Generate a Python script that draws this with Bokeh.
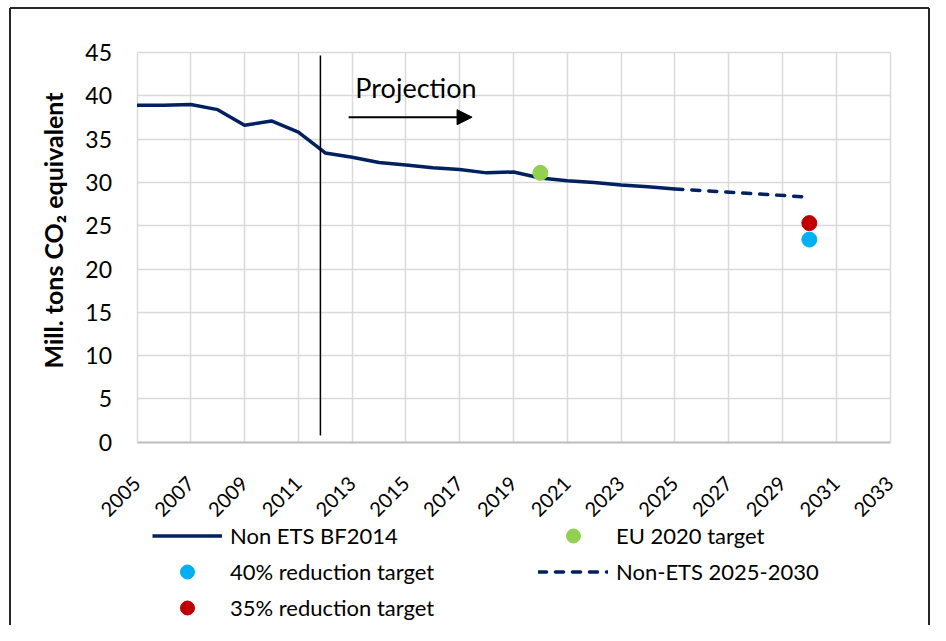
import numpy as np
from bokeh.plotting import figure
from bokeh.models import (Range1d, FixedTicker, Legend, LegendItem, Arrow,
                          NormalHead, Label)
from bokeh.embed import file_html
from bokeh.resources import INLINE

# ---- data ----
years_bf = [2005, 2006, 2007, 2008, 2009, 2010, 2011, 2012, 2013, 2014, 2015,
            2016, 2017, 2018, 2019, 2020, 2021, 2022, 2023, 2024, 2025]
non_ets_bf2014 = [38.9, 38.9, 39.0, 38.4, 36.6, 37.1, 35.8, 33.4, 32.9, 32.3, 32.0,
                  31.7, 31.5, 31.1, 31.2, 30.5, 30.2, 30.0, 29.7, 29.5, 29.25]
years_proj = [2025, 2030]
non_ets_2025_2030 = [29.25, 28.3]
eu2020_year = [2020]
eu2020_target = [31.1]
red40_year = [2030]
red40_target = [23.4]
red35_year = [2030]
red35_target = [25.3]
x_ticks = list(range(2005, 2034, 2))
y_ticks = list(range(0, 46, 5))
x_axis_bounds = (2005, 2033)
y_axis_bounds = (0, 45)

# ---- layout (view window so that axes, labels and legend all sit in the frame) ----
W, H = 930, 625
PX_PER_YEAR = 753.0 / 28
PX_PER_UNIT = 389.7 / 45
X0_PX, Y0_PX = 136.5, 441.7          # where (2005, 0) sits in the picture
x_view = (2005 - X0_PX / PX_PER_YEAR, 2005 + (W - X0_PX) / PX_PER_YEAR)
y_view = (-(H - Y0_PX) / PX_PER_UNIT, Y0_PX / PX_PER_UNIT)


def px_x(px):
    return 2005 + (px - X0_PX) / PX_PER_YEAR


def px_y(py):
    return (Y0_PX - py) / PX_PER_UNIT


# chart-area border (left, top, right), in picture pixels
border_left_px, border_top_px, border_right_px = 9.5, 7.5, 928.5

# annotation positions (data units)
proj_line_x = 2011.82
proj_line_y = (0.77, 44.65)
arrow_x = (2012.87, 2017.46)
arrow_y = 37.53
proj_label_xy = (2013.12, 41.0)
ylabel_xy = (2001.86, 24.45)

FONT = "Lato"
NAVY = "#002060"

p = figure(width=W, height=H, output_backend="svg", toolbar_location=None,
           x_range=Range1d(*x_view), y_range=Range1d(*y_view),
           min_border=0)
p.outline_line_color = None

# chart-area border
bx0, bx1 = px_x(border_left_px), px_x(border_right_px)
by0, by1 = px_y(border_top_px), y_view[0]
p.segment(x0=[bx0, bx0, bx1], y0=[by0, by0, by0], x1=[bx1, bx0, bx1], y1=[by0, by1, by1],
          line_color="#262626", line_width=2)

r_bf = p.line(years_bf, non_ets_bf2014, line_color=NAVY, line_width=3.5,
              line_join="round")
r_proj = p.line(years_proj, non_ets_2025_2030, line_color=NAVY, line_width=3.5,
                line_dash="8 9", line_cap="round")
r_eu = p.scatter(eu2020_year, eu2020_target, size=15, color="#92D050")
r_40 = p.scatter(red40_year, red40_target, size=15, color="#00B0F0")
r_35 = p.scatter(red35_year, red35_target, size=15, color="#C00000")

p.segment(x0=[proj_line_x], y0=[proj_line_y[0]], x1=[proj_line_x], y1=[proj_line_y[1]],
          line_color="black", line_width=1.5)
p.add_layout(Arrow(end=NormalHead(size=15, fill_color="black", line_color="black"),
                   x_start=arrow_x[0], y_start=arrow_y, x_end=arrow_x[1], y_end=arrow_y,
                   line_color="black", line_width=2))
p.add_layout(Label(x=proj_label_xy[0], y=proj_label_xy[1], text="Projection",
                   text_font=FONT, text_font_size="27px", text_baseline="alphabetic",
                   text_color="black"))
p.add_layout(Label(x=ylabel_xy[0], y=ylabel_xy[1], text="Mill. tons CO\u2082 equivalent",
                   angle=np.pi / 2, text_align="center", text_baseline="middle",
                   text_font=FONT, text_font_size="25px", text_font_style="bold",
                   text_color="black"))

# axes (fixed inside the frame)
xt = FixedTicker(ticks=x_ticks)
yt = FixedTicker(ticks=y_ticks)
p.xaxis.fixed_location = 0
p.xaxis.bounds = x_axis_bounds
p.xaxis.ticker = xt
p.xgrid.ticker = xt
p.xaxis.major_label_orientation = np.pi / 4
p.xaxis.major_label_text_font = FONT
p.xaxis.major_label_text_font_size = "20px"
p.xaxis.major_label_text_color = "black"
p.xaxis.major_tick_line_color = None
p.xaxis.major_tick_out = 0
p.xaxis.minor_tick_line_color = None
p.xaxis.axis_line_color = "#BFBFBF"
p.xaxis.axis_line_width = 2
p.xaxis.major_label_standoff = 38

p.yaxis.fixed_location = 2005
p.yaxis.bounds = y_axis_bounds
p.yaxis.ticker = yt
p.ygrid.ticker = yt
p.yaxis.axis_line_color = None
p.yaxis.major_tick_line_color = None
p.yaxis.major_tick_out = 0
p.yaxis.minor_tick_line_color = None
p.yaxis.major_label_text_font = FONT
p.yaxis.major_label_text_font_size = "23px"
p.yaxis.major_label_text_color = "black"
p.yaxis.major_label_standoff = 25

p.grid.grid_line_color = "#D9D9D9"
p.grid.grid_line_width = 1.5
p.xgrid.bounds = x_axis_bounds
p.ygrid.bounds = y_axis_bounds
p.xgrid.cross_bounds = y_axis_bounds
p.ygrid.cross_bounds = x_axis_bounds

legend = Legend(items=[
    LegendItem(label="Non ETS BF2014", renderers=[r_bf]),
    LegendItem(label="EU 2020 target", renderers=[r_eu]),
    LegendItem(label="40% reduction target", renderers=[r_40]),
    LegendItem(label="Non-ETS 2025-2030", renderers=[r_proj]),
    LegendItem(label="35% reduction target", renderers=[r_35]),
], location=(152, 0), orientation="horizontal", ncols=2,
    glyph_width=70, glyph_height=35, label_height=35, label_width=307,
    label_standoff=8, spacing=1, padding=0, margin=0,
    border_line_color=None, background_fill_alpha=0,
    label_text_font=FONT, label_text_font_size="22px", label_text_color="black")
p.add_layout(legend)

open("out.html", "w").write(file_html(p, INLINE))
